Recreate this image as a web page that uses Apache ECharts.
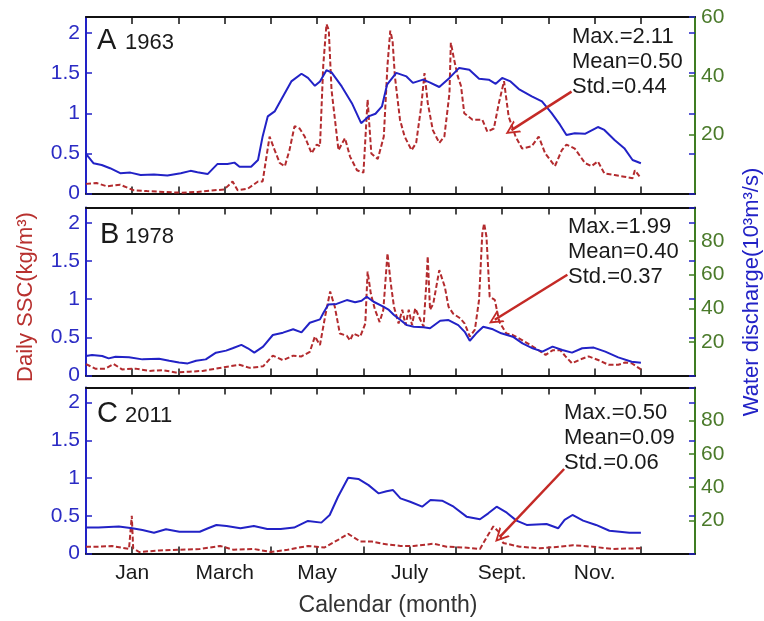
<!DOCTYPE html>
<html>
<head>
<meta charset="utf-8">
<title>Daily SSC and water discharge</title>
<script src="https://cdn.jsdelivr.net/npm/echarts@6/dist/echarts.min.js"></script>
<style>
    html, body { margin: 0; padding: 0; background: #fff; }
    #chart { width: 764px; height: 621px; }
</style>
</head>
<body>
<div id="chart"></div>
<script>
    // x = month index from the start of the record (tick 1 = Jan), y = value
    // daily SSC (kg/m3), left axis
    const ssc1963 = [[0,0.12],[0.23,0.13],[0.45,0.09],[0.74,0.11],[1.03,0.04],[1.32,0.03],[1.68,0.02],[2.05,0.01],[2.41,0.02],[2.77,0.04],[2.99,0.05],[3.17,0.15],[3.28,0.04],[3.5,0.06],[3.72,0.15],[3.82,0.15],[3.97,0.71],[4.08,0.54],[4.19,0.38],[4.3,0.34],[4.4,0.54],[4.51,0.84],[4.62,0.81],[4.73,0.71],[4.88,0.5],[4.99,0.61],[5.06,0.59],[5.13,1.59],[5.2,2.11],[5.25,2.04],[5.31,1.29],[5.46,0.54],[5.6,0.69],[5.71,0.46],[5.86,0.29],[6.0,0.26],[6.09,1.17],[6.17,0.5],[6.31,0.43],[6.44,0.71],[6.52,1.6],[6.58,2.03],[6.63,1.9],[6.68,1.46],[6.79,0.92],[6.89,0.71],[7.04,0.54],[7.14,0.63],[7.25,1.09],[7.32,1.5],[7.39,1.13],[7.5,0.79],[7.64,0.63],[7.75,0.71],[7.86,1.25],[7.89,1.88],[7.96,1.67],[8.04,1.46],[8.11,1.34],[8.18,1.0],[8.36,0.92],[8.57,0.92],[8.68,0.77],[8.82,0.81],[8.93,1.13],[9.04,1.4],[9.14,0.96],[9.29,0.71],[9.43,0.56],[9.64,0.59],[9.79,0.71],[9.93,0.5],[10.14,0.34],[10.29,0.54],[10.39,0.61],[10.57,0.56],[10.79,0.38],[10.93,0.34],[11.07,0.4],[11.21,0.25],[11.43,0.23],[11.64,0.21],[11.82,0.19],[11.87,0.29],[12,0.19]];
    const ssc1978 = [[0,0.15],[0.2,0.09],[0.42,0.09],[0.6,0.15],[0.78,0.08],[1.07,0.09],[1.36,0.06],[1.65,0.07],[1.94,0.04],[2.23,0.05],[2.52,0.06],[2.81,0.09],[3.1,0.12],[3.32,0.14],[3.54,0.1],[3.83,0.12],[4.04,0.26],[4.26,0.2],[4.48,0.26],[4.66,0.25],[4.84,0.31],[4.95,0.51],[5.06,0.4],[5.17,0.77],[5.28,1.1],[5.38,0.9],[5.49,0.55],[5.64,0.52],[5.71,0.46],[5.78,0.55],[5.93,0.51],[6.04,0.68],[6.09,1.36],[6.16,1.07],[6.25,0.86],[6.35,0.7],[6.43,0.86],[6.52,1.6],[6.59,1.21],[6.66,0.9],[6.76,0.68],[6.84,0.86],[6.91,0.66],[6.98,0.86],[7.05,0.66],[7.12,0.88],[7.23,0.73],[7.3,0.64],[7.36,1.21],[7.39,1.56],[7.44,0.86],[7.51,0.94],[7.64,1.38],[7.76,1.16],[7.84,0.9],[7.94,0.81],[8.09,0.75],[8.19,0.68],[8.3,0.51],[8.41,0.6],[8.5,0.99],[8.57,1.86],[8.61,1.99],[8.66,1.82],[8.73,1.03],[8.84,0.99],[8.94,0.7],[9.09,0.55],[9.23,0.53],[9.44,0.46],[9.66,0.38],[9.84,0.31],[9.94,0.27],[10.09,0.33],[10.26,0.33],[10.37,0.25],[10.51,0.16],[10.73,0.22],[10.87,0.25],[11.09,0.2],[11.3,0.14],[11.51,0.14],[11.66,0.17],[11.8,0.16],[12,0.08]];
    const ssc2011 = [[0,0.09],[0.27,0.09],[0.56,0.1],[0.93,0.06],[0.99,0.5],[1.02,0.07],[1.15,0.02],[1.58,0.04],[2.02,0.05],[2.46,0.06],[2.9,0.1],[3.19,0.05],[3.63,0.06],[3.99,0.02],[4.36,0.05],[4.8,0.1],[5.16,0.08],[5.45,0.18],[5.67,0.26],[5.93,0.16],[6.18,0.16],[6.4,0.13],[6.8,0.1],[7.09,0.1],[7.52,0.13],[7.8,0.09],[8.16,0.08],[8.52,0.06],[8.67,0.22],[8.81,0.36],[8.92,0.29],[9.02,0.14],[9.38,0.09],[9.81,0.07],[10.24,0.09],[10.53,0.11],[10.96,0.09],[11.39,0.06],[12,0.07]];

    // water discharge (10^3 m3/s), right axis
    const q1963 = [[0,13.5],[0.16,10.3],[0.34,9.7],[0.52,8.6],[0.74,6.9],[0.96,7.1],[1.18,6.3],[1.47,6.5],[1.76,6.1],[2.05,6.9],[2.26,7.7],[2.41,7.2],[2.63,6.6],[2.84,10],[3.06,10],[3.21,10.5],[3.32,9.1],[3.57,9.1],[3.72,11.4],[3.82,19.4],[3.93,26.2],[4.08,27.9],[4.22,31.9],[4.44,38.1],[4.66,40.7],[4.8,39.3],[4.95,36.6],[5.06,38.1],[5.2,41.9],[5.31,41.2],[5.53,36.4],[5.75,30.7],[5.95,23.9],[6.11,26.2],[6.26,27.1],[6.4,29.6],[6.51,37],[6.71,41],[6.93,39.8],[7.07,37.6],[7.29,38.7],[7.43,37.8],[7.64,36.2],[7.86,39.3],[8.07,42.7],[8.29,42.1],[8.5,39],[8.71,38.7],[8.86,37.3],[9.0,39.3],[9.18,38.1],[9.36,35.5],[9.64,33],[9.86,31.3],[10.07,27.3],[10.25,23.4],[10.39,19.9],[10.57,20.5],[10.79,20.3],[11.07,22.6],[11.21,21.6],[11.43,18.2],[11.64,15.4],[11.82,11.4],[12,10.3]];
    const q1978 = [[0,11.6],[0.13,12.2],[0.35,11.6],[0.49,10.2],[0.64,11.2],[0.93,10.8],[1.22,9.6],[1.58,10],[1.8,8.8],[2.01,7.8],[2.2,7.2],[2.38,8.8],[2.59,9.6],[2.81,13.6],[3.03,14.8],[3.17,16.2],[3.36,18.2],[3.5,16.2],[3.64,13.6],[3.83,17.2],[4.04,24.1],[4.26,25.5],[4.48,27.5],[4.66,25.7],[4.84,31.4],[5.06,33.4],[5.13,37],[5.24,42.2],[5.42,42.6],[5.64,44.9],[5.82,43.6],[5.96,44.5],[6.07,46.9],[6.22,43.9],[6.43,41],[6.55,39],[6.66,36],[6.8,33],[6.94,30],[7.09,29],[7.3,28.7],[7.44,28.1],[7.66,32.6],[7.84,33],[8.05,30],[8.19,26],[8.3,20.7],[8.44,25.1],[8.59,29],[8.8,27.5],[8.98,25.1],[9.23,23.1],[9.44,19.1],[9.66,16.2],[9.87,14.2],[10.09,17.2],[10.3,15.2],[10.51,13.6],[10.73,16.2],[10.98,16.6],[11.23,14.2],[11.51,10.8],[11.8,8.2],[12,7.6]];
    const q2011 = [[0,15.6],[0.27,15.6],[0.71,16.2],[1.0,15.2],[1.22,14.1],[1.47,12.5],[1.73,14.6],[2.02,13.1],[2.46,13.1],[2.64,15.2],[2.82,17.2],[3.04,16.6],[3.34,15.2],[3.63,16.6],[3.92,14.8],[4.21,14.8],[4.5,15.6],[4.8,19.6],[5.09,18.6],[5.27,23.2],[5.45,34.2],[5.67,45.6],[5.89,44.9],[6.11,41.2],[6.33,36.2],[6.5,37.5],[6.64,38.2],[6.8,33.2],[7.01,31.2],[7.27,28.2],[7.45,32.2],[7.7,31.8],[7.95,28.2],[8.23,22.2],[8.52,20.6],[8.7,24.2],[8.88,28.2],[9.1,24.6],[9.31,19.8],[9.53,17.2],[9.96,17.8],[10.21,15.2],[10.35,20.2],[10.52,23.2],[10.75,19.8],[11.03,17.2],[11.32,13.7],[11.54,13.1],[11.75,12.5],[12,12.5]];

    const monthTicks = [1, 2, 3, 4, 5, 6, 7, 8, 9, 10, 11, 12];
    const monthLabelAt = [1, 3, 5, 7, 9, 11];
    const monthLabels = ["Jan", "March", "May", "July", "Sept.", "Nov."];

    const panelTags = ["A", "B", "C"];
    const years = ["1963", "1978", "2011"];
    const qMax = [60, 100, 100];
    const sscMaxText = ["2.11", "1.99", "0.50"];
    const sscMeanText = ["0.50", "0.40", "0.09"];
    const sscStdText = ["0.44", "0.37", "0.06"];
    // arrow from the statistics box to the curve, [month, SSC]
    const arrowFrom = [[10.5, 1.27], [10.41, 1.32], [10.34, 1.12]];
    const arrowTo = [[9.2, 0.79], [8.84, 0.73], [8.95, 0.22]];

    const sscData = [ssc1963, ssc1978, ssc2011];
    const qData = [q1963, q1978, q2011];

    // layout of the three stacked panels (pixels)
    const panelBox = [
        { top: 17, height: 176.5, tagX: 97, capTop: 28, statsX: 572, statsCapTop: 27 },
        { top: 207.5, height: 168, tagX: 100, capTop: 222, statsX: 568, statsCapTop: 217 },
        { top: 387.5, height: 166, tagX: 97, capTop: 401, statsX: 564, statsCapTop: 403 },
    ];

    const FONT = "'Liberation Sans', Arial, Helvetica, sans-serif";
    const BLUE = "#2222c6";
    const RED = "#b32b2e";
    const GREEN = "#3f7d22";
    const GREEN_TEXT = "#4a7a2a";
    const INK = "#1a1a1a";
    const X_MAX = 13.17;
    // open arrow head, tip at the top
    const CHEVRON = "path://M0,14 L7,0 L14,14 L12,14 L7,4 L2,14 Z";

    let myChart = echarts.init(document.getElementById("chart"));

    let grid = [];
    let xAxis = [];
    let yAxis = [];
    let series = [];
    let graphic = [];

    panelBox.forEach((box, i) => {
        grid.push({ left: 86, right: 69, top: box.top, height: box.height, containLabel: false, outerBoundsMode: "none" });

        // bottom and top month axes (ticks point inwards)
        ["bottom", "top"].forEach((pos) => {
            xAxis.push({
                gridIndex: i,
                type: "value",
                position: pos,
                min: 0,
                max: X_MAX,
                axisLine: { onZero: false, lineStyle: { color: "#111", width: 2 } },
                axisTick: { inside: true, length: 7, customValues: monthTicks, lineStyle: { color: "#111", width: 1.5 } },
                axisLabel: {
                    show: pos === "bottom" && i === 2,
                    customValues: monthLabelAt,
                    formatter: (v) => monthLabels[monthLabelAt.indexOf(v)] || "",
                    fontFamily: FONT,
                    fontSize: 21,
                    color: INK,
                    margin: 9,
                },
                splitLine: { show: false },
            });
        });

        // SSC on the left
        yAxis.push({
            gridIndex: i,
            type: "value",
            position: "left",
            min: 0,
            max: 2.2,
            interval: 0.5,
            axisLine: { show: true, onZero: false, lineStyle: { color: BLUE, width: 2 } },
            axisTick: { show: true, inside: true, length: 6, lineStyle: { color: BLUE, width: 1.5 } },
            axisLabel: { showMaxLabel: false, fontFamily: FONT, fontSize: 21, color: "#2b2bc4", margin: 6 },
            splitLine: { show: false },
        });
        // discharge on the right
        yAxis.push({
            gridIndex: i,
            type: "value",
            position: "right",
            min: 0,
            max: qMax[i],
            interval: 20,
            axisLine: { show: true, onZero: false, lineStyle: { color: GREEN, width: 2 } },
            axisTick: { show: true, inside: true, length: 6, lineStyle: { color: GREEN, width: 1.5 } },
            axisLabel: {
                showMinLabel: false,
                showMaxLabel: i === 0,
                fontFamily: FONT,
                fontSize: 21,
                color: GREEN_TEXT,
                margin: 6,
            },
            splitLine: { show: false },
        });
        // SSC ticks repeated on the right spine
        yAxis.push({
            gridIndex: i,
            type: "value",
            position: "right",
            min: 0,
            max: 2.2,
            interval: 0.5,
            axisLine: { show: false, onZero: false },
            axisTick: { show: true, inside: true, length: 6, lineStyle: { color: BLUE, width: 1.5 } },
            axisLabel: { show: false },
            splitLine: { show: false },
        });

        series.push({
            name: "SSC " + years[i],
            type: "line",
            xAxisIndex: 2 * i,
            yAxisIndex: 3 * i,
            data: sscData[i],
            showSymbol: false,
            silent: true,
            z: 2,
            lineStyle: { color: RED, width: 2, type: [5, 2.5] },
        });
        series.push({
            name: "Q " + years[i],
            type: "line",
            xAxisIndex: 2 * i,
            yAxisIndex: 3 * i + 1,
            data: qData[i],
            showSymbol: false,
            silent: true,
            z: 3,
            lineStyle: { color: BLUE, width: 2 },
        });
        // arrow annotation
        series.push({
            name: "arrow " + years[i],
            type: "line",
            xAxisIndex: 2 * i,
            yAxisIndex: 3 * i,
            data: [],
            z: 5,
            markLine: {
                silent: true,
                animation: false,
                symbol: ["none", CHEVRON],
                symbolSize: [14, 14],
                label: { show: false },
                lineStyle: { color: "#c42a26", width: 2.5, type: "solid" },
                data: [[{ coord: arrowFrom[i] }, { coord: arrowTo[i] }]],
            },
        });

        // panel tag and year
        graphic.push({
            type: "text",
            left: box.tagX,
            top: box.capTop - 2,
            style: { text: panelTags[i], font: "29px " + FONT, fill: INK },
        });
        graphic.push({
            type: "text",
            left: 125,
            top: box.capTop + 4,
            style: { text: years[i], font: "22px " + FONT, fill: INK },
        });
        // statistics
        graphic.push({
            type: "text",
            left: box.statsX,
            top: box.statsCapTop - 3,
            style: {
                text: "Max.=" + sscMaxText[i] + "\nMean=" + sscMeanText[i] + "\nStd.=" + sscStdText[i],
                font: "22px " + FONT,
                lineHeight: 25,
                fill: INK,
            },
        });
    });

    // axis titles
    graphic.push({
        type: "text",
        x: 26,
        y: 297,
        rotation: Math.PI / 2,
        style: { text: "Daily SSC(kg/m³)", font: "22px " + FONT, fill: "#b8312f", align: "center", verticalAlign: "middle" },
    });
    graphic.push({
        type: "text",
        x: 752,
        y: 292,
        rotation: Math.PI / 2,
        style: { text: "Water discharge(10³m³/s)", font: "22px " + FONT, fill: BLUE, align: "center", verticalAlign: "middle" },
    });
    graphic.push({
        type: "text",
        x: 388,
        y: 606,
        style: { text: "Calendar (month)", font: "23px " + FONT, fill: "#333", align: "center", verticalAlign: "middle" },
    });

    myChart.setOption({
        animation: false,
        backgroundColor: "#fff",
        grid: grid,
        xAxis: xAxis,
        yAxis: yAxis,
        series: series,
        graphic: graphic,
    });
</script>
</body>
</html>
